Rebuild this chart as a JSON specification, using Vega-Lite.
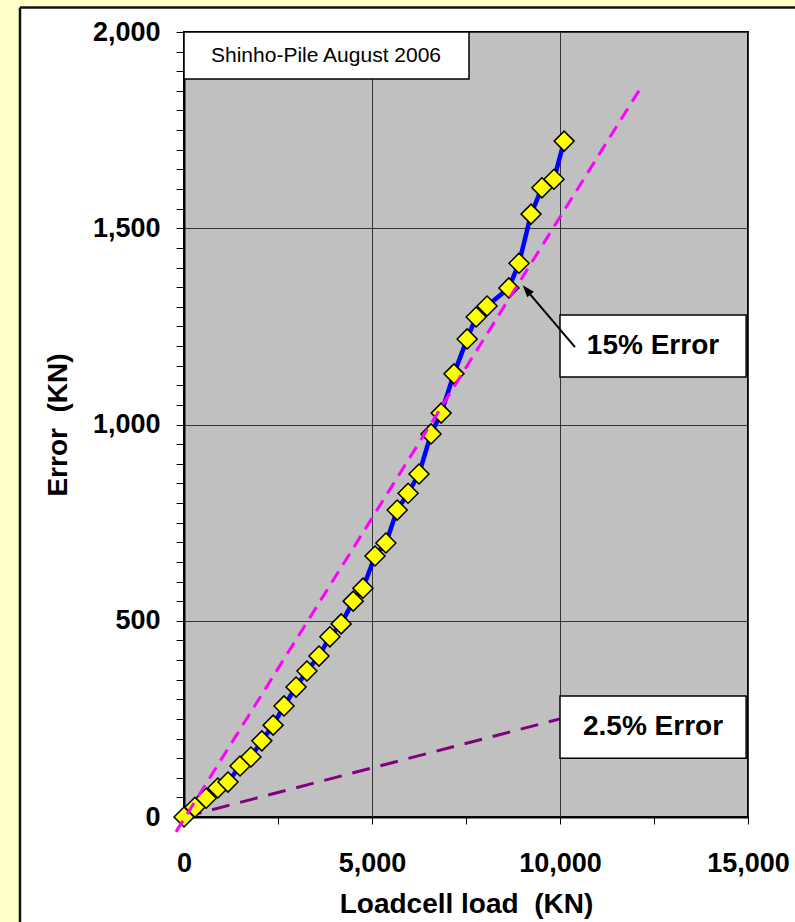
{
  "$schema": "https://vega.github.io/schema/vega-lite/v6.json",
  "width": 564,
  "height": 785,
  "autosize": "none",
  "padding": {"left": 184, "top": 32, "right": 47, "bottom": 105},
  "background": "white",
  "config": {
    "font": "Liberation Sans",
    "view": {"fill": "#C0C0C0", "stroke": "#000000", "strokeWidth": 2}
  },
  "datasets": {
    "main": [
      {"load": 0, "error": 0},
      {"load": 290, "error": 25},
      {"load": 590, "error": 48},
      {"load": 900, "error": 74},
      {"load": 1170, "error": 89},
      {"load": 1490, "error": 130},
      {"load": 1780, "error": 153},
      {"load": 2070, "error": 194},
      {"load": 2370, "error": 234},
      {"load": 2660, "error": 283},
      {"load": 2980, "error": 331},
      {"load": 3270, "error": 372},
      {"load": 3590, "error": 410},
      {"load": 3880, "error": 459},
      {"load": 4180, "error": 492},
      {"load": 4500, "error": 550},
      {"load": 4760, "error": 583},
      {"load": 5080, "error": 665},
      {"load": 5370, "error": 698},
      {"load": 5670, "error": 782},
      {"load": 5960, "error": 825},
      {"load": 6250, "error": 874},
      {"load": 6570, "error": 976},
      {"load": 6840, "error": 1029},
      {"load": 7180, "error": 1129},
      {"load": 7530, "error": 1218},
      {"load": 7770, "error": 1274},
      {"load": 8060, "error": 1302},
      {"load": 8640, "error": 1348},
      {"load": 8910, "error": 1411},
      {"load": 9230, "error": 1536},
      {"load": 9520, "error": 1603},
      {"load": 9840, "error": 1625},
      {"load": 10110, "error": 1722}
    ],
    "err15": [
      {"load": -213, "error": -38},
      {"load": 12207, "error": 1867}
    ],
    "err25": [
      {"load": 0, "error": 0},
      {"load": 10000, "error": 250}
    ],
    "one": [{}]
  },
  "layer": [
    {
      "data": {"name": "one"},
      "mark": {"type": "rect", "fill": "#FFFFCC", "clip": false},
      "encoding": {
        "x": {"datum": -6000, "type": "quantitative", "scale": {"domain": [0, 15000], "nice": false, "zero": false}},
        "x2": {"datum": -4362},
        "y": {"datum": -400, "type": "quantitative", "scale": {"domain": [0, 2000], "nice": false, "zero": false}},
        "y2": {"datum": 2200}
      }
    },
    {
      "data": {"name": "one"},
      "mark": {"type": "rect", "fill": "#FFFFCC", "clip": false},
      "encoding": {
        "x": {"datum": -6000, "type": "quantitative", "scale": {"domain": [0, 15000], "nice": false, "zero": false}},
        "x2": {"datum": 18000},
        "y": {"datum": 2062.4, "type": "quantitative", "scale": {"domain": [0, 2000], "nice": false, "zero": false}},
        "y2": {"datum": 2200}
      }
    },
    {
      "data": {"name": "one"},
      "mark": {"type": "rule", "color": "#111111", "strokeWidth": 2.5, "clip": false},
      "encoding": {
        "x": {"datum": -4362, "type": "quantitative", "scale": {"domain": [0, 15000], "nice": false, "zero": false}},
        "y": {"datum": -400, "type": "quantitative", "scale": {"domain": [0, 2000], "nice": false, "zero": false}},
        "y2": {"datum": 2062.4}
      }
    },
    {
      "data": {"name": "one"},
      "mark": {"type": "rule", "color": "#111111", "strokeWidth": 2.5, "clip": false},
      "encoding": {
        "x": {"datum": -4362, "type": "quantitative", "scale": {"domain": [0, 15000], "nice": false, "zero": false}},
        "x2": {"datum": 18000},
        "y": {"datum": 2062.4, "type": "quantitative", "scale": {"domain": [0, 2000], "nice": false, "zero": false}}
      }
    },
    {
      "data": {"name": "err25"},
      "mark": {"type": "line", "color": "#800080", "strokeWidth": 3, "strokeDash": [18, 11]},
      "encoding": {
        "x": {"field": "load", "type": "quantitative", "scale": {"domain": [0, 15000], "nice": false, "zero": false}},
        "y": {"field": "error", "type": "quantitative", "scale": {"domain": [0, 2000], "nice": false, "zero": false}}
      }
    },
    {
      "data": {"name": "main"},
      "mark": {"type": "line", "color": "#0000FF", "strokeWidth": 4.5},
      "encoding": {
        "x": {
          "field": "load", "type": "quantitative",
          "scale": {"domain": [0, 15000], "nice": false, "zero": false},
          "axis": {
            "title": "Loadcell load\u00a0\u00a0(KN)",
            "values": [0, 2500, 5000, 7500, 10000, 12500, 15000],
            "tickCount": 100,
            "labelExpr": "datum.value % 5000 === 0 ? format(datum.value, ',') : ''",
            "labelOverlap": false,
            "labelFlush": false,
            "grid": true,
            "gridColor": "#333333",
            "gridWidth": 1,
            "gridOpacity": {"condition": {"test": "datum.value % 5000 === 0", "value": 1}, "value": 0},
            "domainColor": "#000000",
            "domainWidth": 2,
            "tickColor": "#000000",
            "tickSize": 7,
            "tickWidth": 1,
            "labelFontSize": 27,
            "labelFontWeight": "bold",
            "labelColor": "#000000",
            "labelPadding": 26,
            "titleFontSize": 28,
            "titleFontWeight": "bold",
            "titleColor": "#000000",
            "titlePadding": 14
          }
        },
        "y": {
          "field": "error", "type": "quantitative",
          "scale": {"domain": [0, 2000], "nice": false, "zero": false},
          "axis": {
            "title": "Error\u00a0\u00a0(KN)",
            "values": [0, 50, 100, 150, 200, 250, 300, 350, 400, 450, 500, 550, 600, 650, 700, 750, 800, 850, 900, 950, 1000, 1050, 1100, 1150, 1200, 1250, 1300, 1350, 1400, 1450, 1500, 1550, 1600, 1650, 1700, 1750, 1800, 1850, 1900, 1950, 2000],
            "tickCount": 100,
            "labelExpr": "datum.value % 500 === 0 ? format(datum.value, ',') : ''",
            "labelOverlap": false,
            "labelFlush": false,
            "grid": true,
            "gridColor": "#333333",
            "gridWidth": 1,
            "gridOpacity": {"condition": {"test": "datum.value % 500 === 0", "value": 1}, "value": 0},
            "domainColor": "#000000",
            "domainWidth": 2,
            "tickColor": "#000000",
            "tickSize": 8,
            "tickWidth": 1,
            "labelFontSize": 27,
            "labelFontWeight": "bold",
            "labelColor": "#000000",
            "labelPadding": 16,
            "titleFontSize": 28,
            "titleFontWeight": "bold",
            "titleColor": "#000000",
            "titlePadding": 20
          }
        }
      }
    },
    {
      "data": {"name": "main"},
      "mark": {"type": "point", "shape": "diamond", "filled": true, "fill": "#FFFF00", "stroke": "#000000", "strokeWidth": 1.5, "size": 400, "opacity": 1},
      "encoding": {
        "x": {"field": "load", "type": "quantitative", "scale": {"domain": [0, 15000], "nice": false, "zero": false}},
        "y": {"field": "error", "type": "quantitative", "scale": {"domain": [0, 2000], "nice": false, "zero": false}}
      }
    },
    {
      "data": {"name": "err15"},
      "mark": {"type": "line", "color": "#FF00FF", "strokeWidth": 3, "strokeDash": [13, 8], "clip": false},
      "encoding": {
        "x": {"field": "load", "type": "quantitative", "scale": {"domain": [0, 15000], "nice": false, "zero": false}},
        "y": {"field": "error", "type": "quantitative", "scale": {"domain": [0, 2000], "nice": false, "zero": false}}
      }
    },
    {
      "data": {"name": "one"},
      "mark": {"type": "rect", "fill": "#FFFFFF", "stroke": "#000000", "strokeWidth": 1.5},
      "encoding": {
        "x": {"datum": 0, "type": "quantitative", "scale": {"domain": [0, 15000], "nice": false, "zero": false}},
        "x2": {"datum": 7580},
        "y": {"datum": 1880, "type": "quantitative", "scale": {"domain": [0, 2000], "nice": false, "zero": false}},
        "y2": {"datum": 2000}
      }
    },
    {
      "data": {"name": "one"},
      "mark": {"type": "text", "text": "Shinho-Pile August 2006", "font": "Liberation Sans", "fontSize": 21, "color": "#000000", "align": "center", "baseline": "middle"},
      "encoding": {
        "x": {"datum": 3777, "type": "quantitative", "scale": {"domain": [0, 15000], "nice": false, "zero": false}},
        "y": {"datum": 1939, "type": "quantitative", "scale": {"domain": [0, 2000], "nice": false, "zero": false}}
      }
    },
    {
      "data": {"name": "one"},
      "mark": {"type": "rect", "fill": "#FFFFFF", "stroke": "#000000", "strokeWidth": 1.5},
      "encoding": {
        "x": {"datum": 10000, "type": "quantitative", "scale": {"domain": [0, 15000], "nice": false, "zero": false}},
        "x2": {"datum": 14950},
        "y": {"datum": 1121, "type": "quantitative", "scale": {"domain": [0, 2000], "nice": false, "zero": false}},
        "y2": {"datum": 1279}
      }
    },
    {
      "data": {"name": "one"},
      "mark": {"type": "text", "text": "15% Error", "fontSize": 28, "fontWeight": "bold", "color": "#000000", "align": "center", "baseline": "middle"},
      "encoding": {
        "x": {"datum": 12473, "type": "quantitative", "scale": {"domain": [0, 15000], "nice": false, "zero": false}},
        "y": {"datum": 1200, "type": "quantitative", "scale": {"domain": [0, 2000], "nice": false, "zero": false}}
      }
    },
    {
      "data": {"name": "one"},
      "mark": {"type": "rect", "fill": "#FFFFFF", "stroke": "#000000", "strokeWidth": 1.5},
      "encoding": {
        "x": {"datum": 10000, "type": "quantitative", "scale": {"domain": [0, 15000], "nice": false, "zero": false}},
        "x2": {"datum": 14950},
        "y": {"datum": 150, "type": "quantitative", "scale": {"domain": [0, 2000], "nice": false, "zero": false}},
        "y2": {"datum": 308}
      }
    },
    {
      "data": {"name": "one"},
      "mark": {"type": "text", "text": "2.5% Error", "fontSize": 28, "fontWeight": "bold", "color": "#000000", "align": "center", "baseline": "middle"},
      "encoding": {
        "x": {"datum": 12473, "type": "quantitative", "scale": {"domain": [0, 15000], "nice": false, "zero": false}},
        "y": {"datum": 229, "type": "quantitative", "scale": {"domain": [0, 2000], "nice": false, "zero": false}}
      }
    },
    {
      "data": {"name": "one"},
      "mark": {"type": "rule", "color": "#000000", "strokeWidth": 2},
      "encoding": {
        "x": {"datum": 10399, "type": "quantitative", "scale": {"domain": [0, 15000], "nice": false, "zero": false}},
        "x2": {"datum": 9060},
        "y": {"datum": 1197, "type": "quantitative", "scale": {"domain": [0, 2000], "nice": false, "zero": false}},
        "y2": {"datum": 1348}
      }
    },
    {
      "data": {"name": "one"},
      "mark": {"type": "point", "shape": "M0,0L-0.35,1L0.35,1Z", "angle": 320, "filled": true, "color": "#000000", "opacity": 1, "size": 600},
      "encoding": {
        "x": {"datum": 9008, "type": "quantitative", "scale": {"domain": [0, 15000], "nice": false, "zero": false}},
        "y": {"datum": 1355, "type": "quantitative", "scale": {"domain": [0, 2000], "nice": false, "zero": false}}
      }
    }
  ]
}
